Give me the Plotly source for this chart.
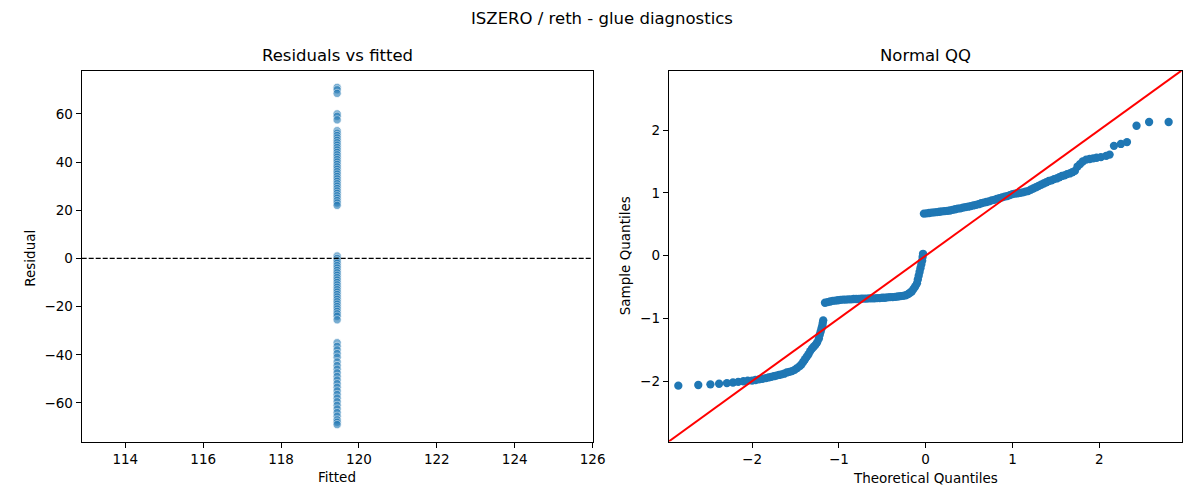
import plotly.graph_objects as go

# --- DATA ---
FITTED_VALUE = 119.44

residuals = [
    71, 70, 68.5, 60, 59, 57.5, 53, 52, 51, 50, 49, 48, 47, 46, 45, 44, 43, 42,
    41, 40, 39, 38, 37, 36, 35, 34, 33, 32, 31, 30, 29, 28, 27, 26, 25, 24, 23, 22,
    1, 0, -1, -2, -3, -4, -5, -6, -7, -8, -9, -10, -11, -12, -13, -14, -15, -16,
    -17, -18, -19, -20, -21, -22, -23, -24, -25.5,
    -35, -36.5, -38, -39.5, -41, -43, -44.5, -46, -47.5, -49, -50.5, -52, -53.5,
    -55, -56.5, -58, -59.5, -61, -62.5, -64, -65.5, -67, -68, -69,
]
fitted = [FITTED_VALUE] * len(residuals)

# QQ plot: theoretical vs sample quantiles
theoretical_q = [
    -2.85, -2.62, -2.48, -2.38, -2.29, -2.22, -2.16, -2.10, -2.05, -2.00,
    -1.96, -1.92, -1.88, -1.84, -1.81, -1.78, -1.75, -1.72, -1.69, -1.66,
    -1.63, -1.60, -1.57, -1.54, -1.51, -1.48, -1.45, -1.43, -1.41, -1.39,
    -1.37, -1.35, -1.33, -1.31, -1.29, -1.27, -1.25, -1.23, -1.22, -1.21,
    -1.20, -1.19, -1.185, -1.18,
    -1.16, -1.13, -1.10, -1.07, -1.04, -1.01, -0.98, -0.95, -0.92, -0.89,
    -0.86, -0.83, -0.80, -0.77, -0.74, -0.71, -0.68, -0.65, -0.62, -0.59,
    -0.56, -0.53, -0.50, -0.47, -0.44, -0.41, -0.38, -0.35, -0.32, -0.29,
    -0.26, -0.23, -0.20, -0.18, -0.16, -0.14, -0.12, -0.10, -0.09, -0.08,
    -0.07, -0.06, -0.05, -0.04, -0.035, -0.03,
    -0.02, 0.01, 0.04, 0.07, 0.10, 0.13, 0.16, 0.19, 0.22, 0.25,
    0.28, 0.31, 0.34, 0.37, 0.40, 0.43, 0.46, 0.49, 0.52, 0.55,
    0.58, 0.61, 0.64, 0.67, 0.70, 0.73, 0.76, 0.79, 0.82, 0.85,
    0.88, 0.91, 0.94, 0.97, 1.00, 1.03, 1.06, 1.09, 1.12, 1.15,
    1.18, 1.21, 1.24, 1.27, 1.30, 1.33, 1.36, 1.39, 1.42, 1.45,
    1.48, 1.51, 1.54, 1.57, 1.60, 1.63, 1.66, 1.69, 1.72, 1.75,
    1.78, 1.81, 1.85, 1.89, 1.93, 1.97, 2.02, 2.08, 2.12, 2.17,
    2.25, 2.32, 2.43, 2.575, 2.80,
]
sample_q = [
    -2.07, -2.06, -2.05, -2.04, -2.03, -2.02, -2.01, -2.00, -1.99, -1.99,
    -1.98, -1.97, -1.96, -1.95, -1.94, -1.93, -1.92, -1.91, -1.90, -1.89,
    -1.88, -1.86, -1.85, -1.84, -1.82, -1.79, -1.76, -1.73, -1.69, -1.65,
    -1.61, -1.57, -1.52, -1.48, -1.45, -1.42, -1.38, -1.32, -1.26, -1.21,
    -1.16, -1.11, -1.07, -1.03,
    -0.75, -0.74, -0.73, -0.72, -0.715, -0.71, -0.705, -0.70, -0.70, -0.695,
    -0.695, -0.69, -0.69, -0.69, -0.685, -0.685, -0.685, -0.68, -0.68, -0.68,
    -0.675, -0.675, -0.67, -0.67, -0.665, -0.66, -0.66, -0.655, -0.65, -0.645,
    -0.64, -0.63, -0.61, -0.59, -0.57, -0.53, -0.49, -0.44, -0.38, -0.32,
    -0.26, -0.20, -0.14, -0.08, -0.02, 0.03,
    0.67, 0.675, 0.68, 0.685, 0.69, 0.695, 0.70, 0.705, 0.71, 0.715,
    0.72, 0.73, 0.74, 0.75, 0.755, 0.765, 0.775, 0.78, 0.79, 0.80,
    0.81, 0.82, 0.835, 0.845, 0.855, 0.865, 0.88, 0.89, 0.905, 0.915,
    0.93, 0.94, 0.95, 0.965, 0.98, 0.99, 0.995, 1.00, 1.01, 1.02,
    1.03, 1.05, 1.07, 1.09, 1.11, 1.13, 1.15, 1.17, 1.19, 1.20,
    1.22, 1.23, 1.25, 1.27, 1.28, 1.30, 1.31, 1.33, 1.35, 1.42,
    1.46, 1.50, 1.53, 1.54, 1.55, 1.56, 1.57, 1.59, 1.61, 1.75,
    1.78, 1.81, 2.07, 2.13, 2.13,
]

RESID_XRANGE = [112.88, 126]
RESID_YRANGE = [-76, 78]
QQ_LIM = [-2.96, 2.95]

FONT = "DejaVu Sans"
C0 = "#1f77b4"
W, H = 1200, 500
OFFX, OFFY = 0, 8  # where the plot lands in the screenshot


def px(x):
    return (x - OFFX) / W


def py(y):
    return 1 - (y - OFFY) / H


# --- FIGURE ---
fig = go.Figure()

# Residuals vs fitted
fig.add_trace(go.Scatter(
    x=fitted, y=residuals, mode="markers",
    marker=dict(size=8.3, color=C0, opacity=0.6, line=dict(color="white", width=0.8)),
    xaxis="x", yaxis="y", showlegend=False,
))

# Normal QQ points
fig.add_trace(go.Scatter(
    x=theoretical_q, y=sample_q, mode="markers",
    marker=dict(size=8.3, color=C0, line=dict(width=0)),
    xaxis="x2", yaxis="y2", showlegend=False,
))

# 45 degree reference line across the axis limits
fig.add_trace(go.Scatter(
    x=QQ_LIM, y=QQ_LIM, mode="lines",
    line=dict(color="red", width=2),
    xaxis="x2", yaxis="y2", showlegend=False,
))

# zero line for the residuals
fig.add_shape(type="line", xref="x domain", yref="y", x0=0, x1=1, y0=0, y1=0,
              line=dict(color="black", width=1.2, dash="5px,2px"))

axis_style = dict(
    showline=True, linecolor="black", linewidth=1.1, mirror=True,
    ticks="outside", ticklen=5, tickwidth=1.1, tickcolor="black",
    showgrid=False, zeroline=False,
    tickfont=dict(family=FONT, size=13.5, color="black"),
)

L1, R1 = 74.5, 591
L2, R2 = 668, 1186.5
TOP, BOT = 70.5, 441.5
y_dom = [py(BOT), py(TOP)]

fig.update_layout(
    width=W, height=H,
    margin=dict(l=0, r=0, t=0, b=0),
    paper_bgcolor="white", plot_bgcolor="white",
    font=dict(family=FONT, color="black"),
    xaxis=dict(domain=[px(L1), px(R1)], range=RESID_XRANGE,
               tickmode="array", tickvals=[114, 116, 118, 120, 122, 124, 126], **axis_style),
    yaxis=dict(domain=y_dom, range=RESID_YRANGE,
               tickmode="array", tickvals=[-60, -40, -20, 0, 20, 40, 60], **axis_style),
    xaxis2=dict(domain=[px(L2), px(R2)], range=QQ_LIM, anchor="y2",
                tickmode="array", tickvals=[-2, -1, 0, 1, 2], **axis_style),
    yaxis2=dict(domain=y_dom, range=QQ_LIM, anchor="x2",
                tickmode="array", tickvals=[-2, -1, 0, 1, 2], **axis_style),
)

title_font = dict(family=FONT, size=16.5, color="black")
label_font = dict(family=FONT, size=13.5, color="black")
annotations = [
    dict(text="ISZERO / reth - glue diagnostics", x=px(600), y=py(18), font=title_font),
    dict(text="Residuals vs fitted", x=px((L1 + R1) / 2), y=py(56), font=title_font),
    dict(text="Normal QQ", x=px((L2 + R2) / 2), y=py(56), font=title_font),
    dict(text="Fitted", x=px((L1 + R1) / 2), y=py(477), font=label_font),
    dict(text="Theoretical Quantiles", x=px((L2 + R2) / 2), y=py(478), font=label_font),
    dict(text="Residual", x=px(22), y=py(258), font=label_font, textangle=-90),
    dict(text="Sample Quantiles", x=px(624), y=py(256), font=label_font, textangle=-90),
]
for a in annotations:
    fig.add_annotation(xref="paper", yref="paper", showarrow=False,
                       xanchor="center", yanchor="middle", **a)

fig.write_html("out.html")
